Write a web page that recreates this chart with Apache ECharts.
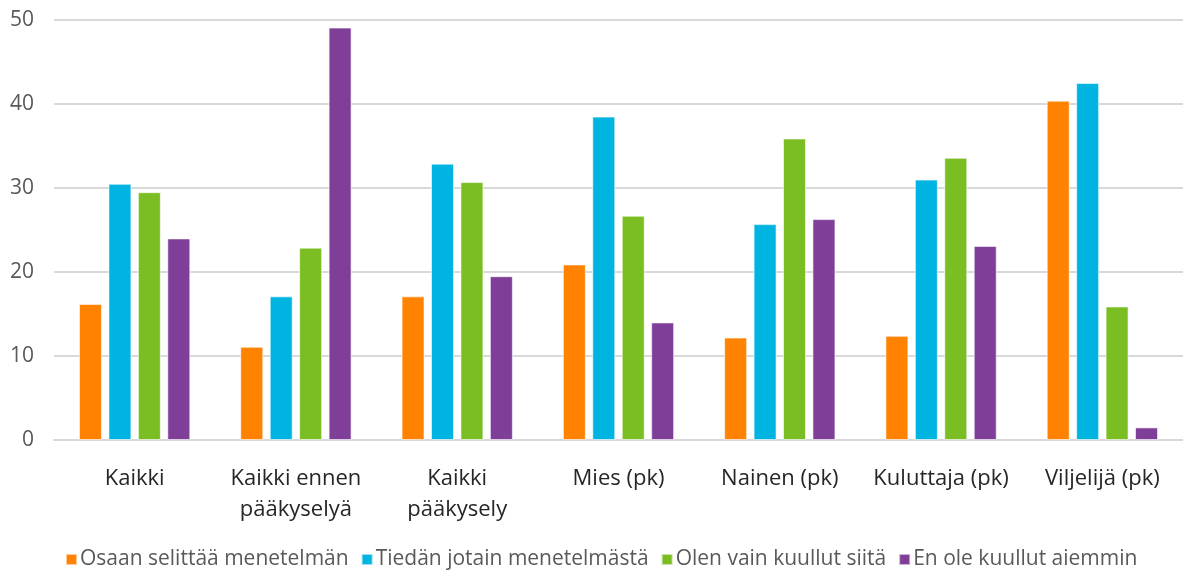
<!DOCTYPE html>
<html>
<head>
<meta charset="utf-8">
<script src="https://cdn.jsdelivr.net/npm/echarts@6/dist/echarts.min.js"></script>
<style>
  html, body { margin: 0; padding: 0; background: #fff; }
  #chart { width: 1183px; height: 571px; }
</style>
</head>
<body>
<div id="chart"></div>
<script>
const categories = ['Kaikki', 'Kaikki ennen\npääkyselyä', 'Kaikki\npääkysely', 'Mies (pk)', 'Nainen (pk)', 'Kuluttaja (pk)', 'Viljelijä (pk)']
const seriesNames = ['Osaan selittää menetelmän', 'Tiedän jotain menetelmästä', 'Olen vain kuullut siitä', 'En ole kuullut aiemmin']
const osaan = [16.2, 11.1, 17.1, 20.9, 12.2, 12.4, 40.4]
const tiedan = [30.5, 17.1, 32.9, 38.5, 25.7, 31.0, 42.5]
const kuullut = [29.5, 22.9, 30.7, 26.7, 35.9, 33.6, 15.9]
const enOle = [24.0, 49.1, 19.5, 14.0, 26.3, 23.1, 1.5]
const colors = ['#FF8200', '#00B4E1', '#7ABE23', '#7F3F98']

const values = [osaan, tiedan, kuullut, enOle]
const font = '"Open Sans", "Liberation Sans", sans-serif'

const myChart = echarts.init(document.getElementById('chart'))
myChart.setOption({
  animation: false,
  color: colors,
  grid: { left: 54, right: 0, top: 20, bottom: 131, containLabel: false },
  legend: {
    bottom: -4,
    left: 60,
    itemWidth: 11,
    itemHeight: 11,
    itemGap: 12,
    icon: 'rect',
    textStyle: { color: '#595959', fontSize: 21, fontFamily: font, padding: [0, 0, 0, -2] },
    data: seriesNames
  },
  xAxis: {
    type: 'category',
    data: categories,
    axisLine: { lineStyle: { color: '#d9d9d9', width: 2 } },
    axisTick: { show: false },
    axisLabel: { color: '#262626', fontSize: 22, fontFamily: font, margin: 23, lineHeight: 31, interval: 0 }
  },
  yAxis: {
    type: 'value',
    min: 0,
    max: 50,
    interval: 10,
    axisLine: { show: false },
    axisTick: { show: false },
    splitLine: { lineStyle: { color: '#d9d9d9', width: 2 } },
    axisLabel: { color: '#595959', fontSize: 21, fontFamily: font, margin: 20 }
  },
  series: seriesNames.map((name, i) => ({
    name,
    type: 'bar',
    data: values[i],
    barWidth: 23,
    barGap: '28%',
    itemStyle: { borderColor: 'rgba(255,255,255,0.6)', borderWidth: 1 }
  }))
})
</script>
</body>
</html>
